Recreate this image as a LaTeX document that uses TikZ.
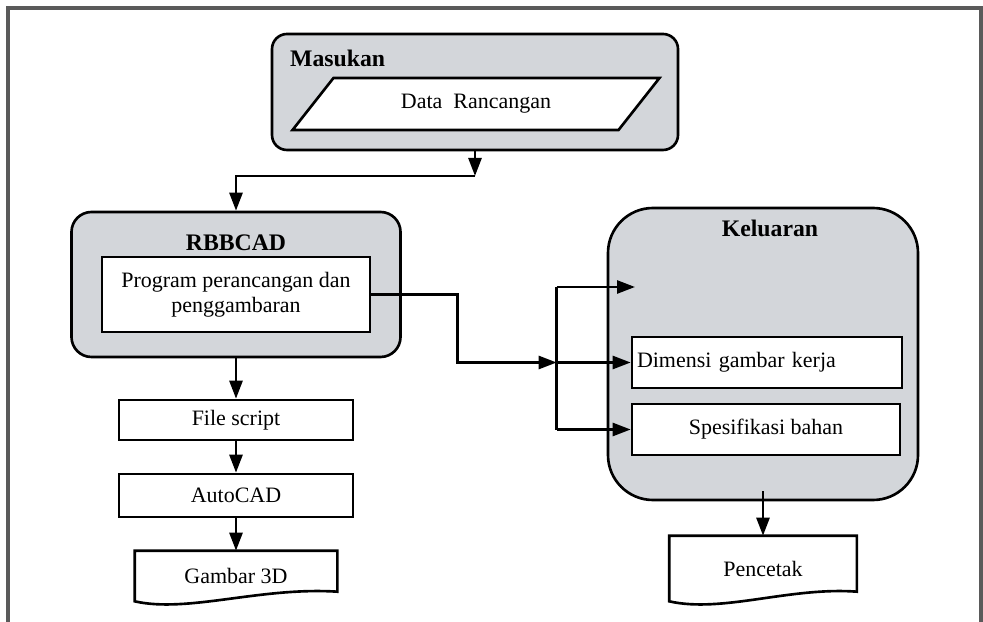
\documentclass[tikz,border=0pt]{standalone}
\usepackage{fontspec}
\setmainfont{Liberation Serif}
\usetikzlibrary{arrows.meta,shapes.geometric}
\definecolor{panelgray}{HTML}{D3D6DA}
\definecolor{framegray}{HTML}{5A5A5A}
\begin{document}
\begin{tikzpicture}[x=0.2mm,y=-0.2mm,
    line width=1.5pt,
    group/.style={draw,fill=panelgray,rounded corners=#1},
    group/.default=3mm,
    title/.style={font=\fontsize{13.5}{16}\selectfont\bfseries},
    plain/.style={font=\fontsize{12.5}{14.5}\selectfont},
    box/.style={draw,fill=white,plain,inner sep=1mm},
    doc/.style={plain,minimum width=#1},
    arr/.style={-{Triangle[length=3.6mm,width=2.6mm]}}]
    \useasboundingbox (0,0) rectangle (983,622);
    \draw[framegray,line width=1.8pt] (8,622) -- (8,8) -- (981,8) -- (981,622);
    % masukan
    \node[group,minimum width=81.2mm,minimum height=23.2mm] (masukan) at (475,92) {};
    \node[title,anchor=west] (masukanlbl) at (283,58) {Masukan};
    \node[trapezium,draw,fill=white,plain,trapezium left angle=53,trapezium right angle=127,
        trapezium stretches=true,minimum width=73.4mm,minimum height=10.4mm] (data) at (476,104) {Data~~Rancangan};
    % rbbcad
    \node[group=4mm,minimum width=65.8mm,minimum height=29mm] (rbbcad) at (236,284.5) {};
    \node[title] (rbbcadlbl) at (236,243) {RBBCAD};
    \node[box,minimum width=53.6mm,minimum height=15mm,align=center] (prog) at (236,294.5) {Program perancangan dan\\penggambaran};
    % keluaran
    \node[group=9mm,minimum width=62mm,minimum height=58.4mm] (keluaran) at (763,354) {};
    \node[title] (keluaranlbl) at (770,228) {Keluaran};
    \node[box,minimum width=54mm,minimum height=10.2mm,text width=52mm,align=left] (dimensi) at (767,362.5) {Dimensi gambar kerja};
    \node[box,minimum width=53.6mm,minimum height=10.2mm] (spesifikasi) at (766,429.5) {Spesifikasi bahan};
    % left column
    \node[box,minimum width=46.8mm,minimum height=8mm] (script) at (236,420) {File script};
    \node[box,minimum width=46.8mm,minimum height=8.6mm] (autocad) at (236,495.5) {AutoCAD};
    \node[doc=40mm,minimum height=9.6mm] (gambar) at (236,576) {Gambar 3D};
    \draw (gambar.north west) -- (gambar.north east) -- ++(0,41) .. controls +(-77,-5) and +(53,12) .. (gambar.south west) -- cycle;
    % printer
    \node[doc=37mm,minimum height=12.6mm] (pencetak) at (763,568.5) {Pencetak};
    \draw (pencetak.north west) -- (pencetak.north east) -- ++(0,56) .. controls +(-67,-5) and +(53,12) .. (pencetak.south west) -- cycle;
    % connectors
    \coordinate (split) at (475,176);
    \draw[arr] (masukan.south) -- (split);
    \draw[arr] (split) -| (rbbcad.north);
    \path (dimensi.west) ++(-74,0) coordinate (hub);
    \coordinate (kin) at (635,287);
    \draw[arr] (prog.east) -- ++(86,0) |- (hub);
    \draw (hub |- kin) -- (hub |- spesifikasi.west);
    \draw[arr] (hub |- kin) -- (kin);
    \draw[arr] (hub) -- (dimensi.west);
    \draw[arr] (hub |- spesifikasi.west) -- (spesifikasi.west);
    \draw[arr] (rbbcad.south) -- (script.north);
    \draw[arr] (script) -- (autocad);
    \draw[arr] (autocad) -- (gambar.north);
    \draw[arr] ([yshift=2mm]keluaran.south) -- (pencetak.north);
\end{tikzpicture}
\end{document}
